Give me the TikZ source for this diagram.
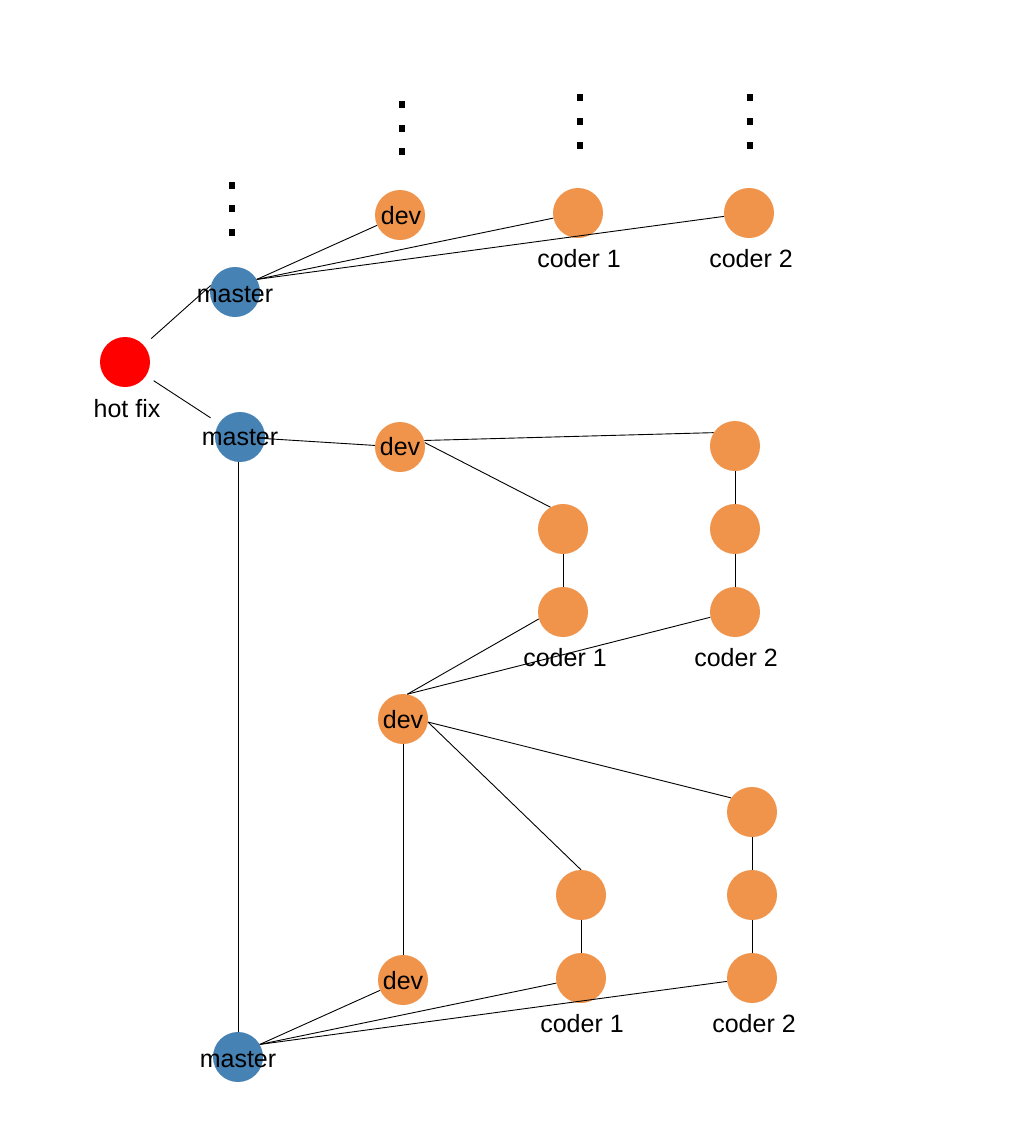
\documentclass[tikz,border=0pt]{standalone}
\usepackage{fontspec}
\setmainfont{Liberation Sans}
\definecolor{orng}{RGB}{240,147,75}
\definecolor{mblue}{RGB}{70,130,180}
\begin{document}
\begin{tikzpicture}[x=1pt,y=-1pt,
  commit/.style={circle,minimum size=50pt,inner sep=0pt,draw=none},
  devc/.style={commit,fill=orng},
  mast/.style={commit,fill=mblue},
  fixc/.style={commit,fill=red},
  lbl/.style={anchor=base,inner sep=0pt,font=\fontsize{25}{30}\selectfont},
  link/.style={draw=black,line width=0.9pt},
  dotmark/.style={rectangle,fill=black,inner sep=0pt,minimum width=6pt,minimum height=7pt,draw=none}]
\fill[white] (0,0) rectangle (1024,1130);
\useasboundingbox (0,0) rectangle (1024,1130);

% continuation dots
\foreach \i/\x/\y in {m1/232/185,m2/232/208,m3/232/232,
                      d1/402/104,d2/402/128,d3/402/151,
                      a1/580/97,a2/580/121,a3/580/145,
                      b1/750/97,b2/750/121,b3/750/145}
  \node[dotmark] (dot\i) at (\x,\y) {};

% commits
\node[fixc] (h)  at (125,362) {};
\node[mast] (m1) at (235,292) {};
\node[mast] (m2) at (240,437) {};
\node[mast] (m3) at (238,1057) {};
\node[devc] (d1) at (400,215) {};
\node[devc] (t1) at (578,213) {};
\node[devc] (t2) at (749,213) {};
\node[devc] (d2) at (400,447) {};
\node[devc] (a1) at (563,529) {};
\node[devc] (b1) at (563,612) {};
\node[devc] (a2) at (735,446) {};
\node[devc] (b2) at (735,529) {};
\node[devc] (c2) at (735,612) {};
\node[devc] (d3) at (403,719) {};
\node[devc] (e1) at (581,895) {};
\node[devc] (f1) at (581,978) {};
\node[devc] (e2) at (752,812) {};
\node[devc] (f2) at (752,895) {};
\node[devc] (g2) at (752,978) {};
\node[devc] (d4) at (403,980) {};

% connectors
\draw[link,shorten <=10pt] (h) -- (m1.165);
\draw[link,shorten <=9pt,shorten >=10pt] (h) -- (m2);
\draw[link] (m1.30) -- (d1);
\draw[link] (m1.30) -- (t1);
\draw[link] (m1.30) -- (t2);
\draw[link] (m2) -- (d2);
\draw[link] (m3.north) -- (m3 |- m2.south);
\draw[link] (d2.15) -- (a2.148);
\draw[link] (d2.10) -- (a1.120);
\draw[link] (a1) -- (b1);
\draw[link] (a2) -- (b2);
\draw[link] (b2) -- (c2);
\draw[link] (b1.196) -- (d3.80);
\draw[link] (c2.192) -- (d3.80);
\draw[link] (d3) -- (d4);
\draw[link] (d3.353) -- (e2.146);
\draw[link] (d3.353) -- (e1.north);
\draw[link] (e1) -- (f1);
\draw[link] (e2) -- (f2);
\draw[link] (f2) -- (g2);
\draw[link] (m3.30) -- (d4);
\draw[link] (m3.30) -- (f1);
\draw[link] (m3.30) -- (g2);

% labels
\node[lbl] (lh)  at (127,417) {hot fix};
\node[lbl] (lm1) at (235,302) {master};
\node[lbl] (lm2) at (240,445) {master};
\node[lbl] (lm3) at (238,1067) {master};
\node[lbl] (ld1) at (401,224) {dev};
\node[lbl] (ld2) at (400,455) {dev};
\node[lbl] (ld3) at (403,728) {dev};
\node[lbl] (ld4) at (403,989) {dev};
\node[lbl] (lt1) at (579,267) {coder 1};
\node[lbl] (lt2) at (751,267) {coder 2};
\node[lbl] (lb1) at (565,666) {coder 1};
\node[lbl] (lc2) at (736,666) {coder 2};
\node[lbl] (lf1) at (582,1032) {coder 1};
\node[lbl] (lg2) at (754,1032) {coder 2};
\end{tikzpicture}
\end{document}
